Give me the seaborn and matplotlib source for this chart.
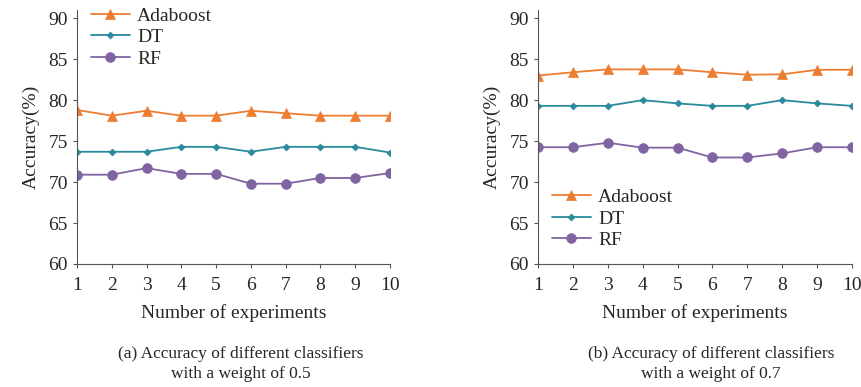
import pandas as pd
import matplotlib.pyplot as plt
import seaborn as sns

# data
experiments = [1, 2, 3, 4, 5, 6, 7, 8, 9, 10]
classifiers = ["Adaboost", "DT", "RF"]

ada_w05 = [78.8, 78.1, 78.7, 78.1, 78.1, 78.7, 78.4, 78.1, 78.1, 78.1]
dt_w05 = [73.7, 73.7, 73.7, 74.3, 74.3, 73.7, 74.3, 74.3, 74.3, 73.6]
rf_w05 = [70.9, 70.9, 71.7, 71.0, 71.0, 69.8, 69.8, 70.5, 70.5, 71.1]

ada_w07 = [83.0, 83.4, 83.75, 83.75, 83.75, 83.4, 83.1, 83.15, 83.7, 83.7]
dt_w07 = [79.3, 79.3, 79.3, 80.0, 79.6, 79.3, 79.3, 80.0, 79.6, 79.3]
rf_w07 = [74.25, 74.25, 74.8, 74.2, 74.2, 73.0, 73.0, 73.5, 74.25, 74.25]

captions = ["(a) Accuracy of different classifiers\nwith a weight of 0.5",
            "(b) Accuracy of different classifiers\nwith a weight of 0.7"]


def to_long(ada, dt, rf):
    frames = []
    for name, vals in zip(classifiers, [ada, dt, rf]):
        frames.append(pd.DataFrame({"Experiment": experiments, "Accuracy": vals, "Classifier": name}))
    return pd.concat(frames, ignore_index=True)


df_a = to_long(ada_w05, dt_w05, rf_w05)
df_b = to_long(ada_w07, dt_w07, rf_w07)

sns.set_style("ticks")
plt.rcParams['font.family'] = ['Liberation Serif', 'DejaVu Serif']
fs = 14

palette = {"Adaboost": "#ED7D31", "DT": "#2A8A9C", "RF": "#8064A2"}
markers = {"Adaboost": "^", "DT": "D", "RF": "o"}
sizes_m = {"Adaboost": 6.5, "DT": 3.5, "RF": 7}

fig = plt.figure(figsize=(8.61, 3.87), dpi=100)
ax1 = fig.add_axes([77 / 861, 1 - 264 / 387, 313 / 861, 254 / 387])
ax2 = fig.add_axes([538 / 861, 1 - 264 / 387, 314 / 861, 254 / 387])

for ax, df, cap, cx in [(ax1, df_a, captions[0], 241 / 861), (ax2, df_b, captions[1], 711 / 861)]:
    for name in classifiers:
        sub = df[df["Classifier"] == name]
        sns.lineplot(data=sub, x="Experiment", y="Accuracy", ax=ax, color=palette[name],
                     marker=markers[name], markersize=sizes_m[name], markeredgewidth=0.5,
                     markeredgecolor=palette[name], linewidth=1.3, label=name)
    ax.set_xlim(1, 10)
    ax.set_ylim(60, 91)
    ax.set_xticks(experiments)
    ax.set_yticks([60, 65, 70, 75, 80, 85, 90])
    ax.set_xlabel("Number of experiments", fontsize=fs, labelpad=8)
    ax.set_ylabel("Accuracy(%)", fontsize=fs, labelpad=6)
    ax.tick_params(axis="both", labelsize=fs, length=3, width=0.8, color="#555555")
    ax.tick_params(axis="x", pad=6)
    sns.despine(ax=ax)
    for s in ["left", "bottom"]:
        ax.spines[s].set_color("#555555")
    fig.text(cx, 0.06, cap, ha="center", va="center", fontsize=12.5, linespacing=1.3)

ax1.legend(loc="upper left", bbox_to_anchor=(0.0, 1.065), frameon=False, fontsize=fs,
           handlelength=2.0, labelspacing=0.2, borderaxespad=0.3, handletextpad=0.4)
ax2.legend(loc="lower left", bbox_to_anchor=(0.0, 0.005), frameon=False, fontsize=fs,
           handlelength=2.0, labelspacing=0.2, borderaxespad=0.3, handletextpad=0.4)

fig.savefig("out.png", dpi=100)
